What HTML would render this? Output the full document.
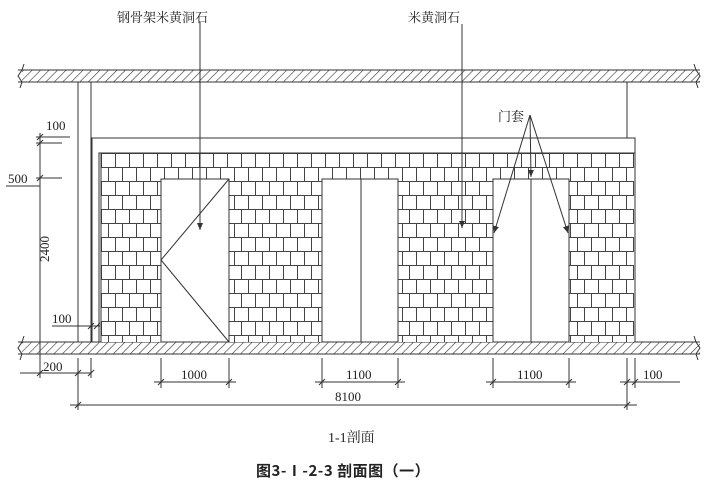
<!DOCTYPE html>
<html><head><meta charset="utf-8"><style>
html,body{margin:0;padding:0;background:#fff;}
svg{display:block;}
text{font-family:"Liberation Serif","Noto Serif CJK SC",serif;fill:#222;}
</style></head><body>
<svg width="706" height="490" viewBox="0 0 706 490" xmlns="http://www.w3.org/2000/svg">
<defs>
<pattern id="hatch" width="6" height="6" patternUnits="userSpaceOnUse" patternTransform="rotate(45)">
<line x1="0" y1="0" x2="0" y2="6" stroke="#333" stroke-width="1.2"/>
</pattern>
<pattern id="brick" x="101" y="153" width="28" height="28" patternUnits="userSpaceOnUse">
<rect width="28" height="28" fill="#fff"/>
<path d="M0 0.5H28M0 14.5H28M0.5 0V14M14.5 0V14M7.5 14V28M21.5 14V28" stroke="#444" stroke-width="1" fill="none"/>
</pattern>
<marker id="ar" markerWidth="8" markerHeight="8" refX="7" refY="3" orient="auto" markerUnits="userSpaceOnUse">
<path d="M0 0L7 3L0 6z" fill="#333"/>
</marker>
</defs>
<g stroke="#333" fill="none" stroke-width="1">
<rect x="22" y="70" width="678" height="12" fill="url(#hatch)" stroke="none"/>
<line x1="18" y1="70" x2="700" y2="70"/><line x1="18" y1="82" x2="700" y2="82"/>
<rect x="22" y="342" width="678" height="12" fill="url(#hatch)" stroke="none"/>
<line x1="18" y1="342" x2="700" y2="342"/><line x1="18" y1="354" x2="700" y2="354"/>
<path d="M24 64L22 70L18 76L22 82L20 88M694 64L696 70L700 76L696 82L698 88"/>
<path d="M24 336L22 342L18 348L22 354L20 360M694 336L696 342L700 348L696 354L698 360"/>
<line x1="78" y1="82" x2="78" y2="342"/><line x1="91" y1="82" x2="91" y2="342"/>
<line x1="627" y1="82" x2="627" y2="138"/>
<rect x="101" y="153" width="533" height="189" fill="url(#brick)" stroke="none"/>
<path d="M92 342V138H635V342M99 342V153H635M101 153V342"/>
<rect x="161" y="179" width="68" height="163" fill="#fff"/>
<path d="M229 179L161 260L229 342"/>
<rect x="322" y="179" width="76" height="163" fill="#fff"/>
<line x1="361" y1="179" x2="361" y2="342"/>
<rect x="493" y="179" width="76" height="163" fill="#fff"/>
<line x1="531" y1="179" x2="531" y2="342"/>
<line x1="200" y1="22" x2="200" y2="230" marker-end="url(#ar)"/>
<line x1="462" y1="24" x2="462" y2="228" marker-end="url(#ar)"/>
<line x1="530" y1="115" x2="494" y2="233" marker-end="url(#ar)"/>
<line x1="530" y1="115" x2="531" y2="177" marker-end="url(#ar)"/>
<line x1="530" y1="115" x2="568" y2="233" marker-end="url(#ar)"/>
<line x1="40" y1="133" x2="40" y2="342"/>
<path d="M36 137L70 137M36 143L62 143M36 178L62 178M6 186L40 186"/>
<path d="M37 140L43 134M37 146L43 140M37 181L43 175"/>
<path d="M52 326L100 326M88 329L94 323M94 329L100 323"/>
<line x1="40" y1="340" x2="40" y2="370"/>
<path d="M20 373H91M78 358V410M91 358V378M40 358V378"/>
<path d="M37 376L43 370M75 376L81 370M88 376L94 370"/>
<path d="M161 358V388M229 358V388M154 382H236"/>
<path d="M158 385L164 379M226 385L232 379"/>
<path d="M322 358V388M398 358V388M315 382H405"/>
<path d="M319 385L325 379M395 385L401 379"/>
<path d="M493 358V388M569 358V388M486 382H576"/>
<path d="M490 385L496 379M566 385L572 379"/>
<path d="M627 358V410M635 358V388M620 382H680"/>
<path d="M624 385L630 379M632 385L638 379"/>
<path d="M70 405H637M75 408L81 402M624 408L630 402"/>
</g>
<g font-size="13">
<text x="117" y="22" font-size="13">钢骨架米黄洞石</text>
<text x="408" y="22" font-size="13">米黄洞石</text>
<text x="498" y="121" font-size="13">门套</text>
<text x="46" y="130">100</text>
<text x="8" y="183">500</text>
<text x="35" y="276" transform="rotate(-90 35 262)">2400</text>
<text x="52" y="323">100</text>
<text x="43" y="371">200</text>
<text x="181" y="379">1000</text>
<text x="346" y="379">1100</text>
<text x="517" y="379">1100</text>
<text x="643" y="379">100</text>
<text x="335" y="401">8100</text>
<text x="328" y="442" font-size="14">1-1剖面</text>
<text x="256" y="476" font-size="15" font-weight="bold" style="font-family:'Noto Sans CJK SC','Liberation Sans',sans-serif;letter-spacing:0.5px">图3-Ⅰ-2-3  剖面图（一）</text>
</g>
</svg>
</body></html>
